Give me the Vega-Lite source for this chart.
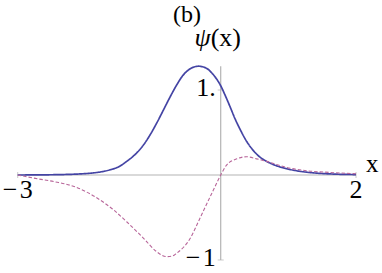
{
  "$schema": "https://vega.github.io/schema/vega-lite/v6.json",
  "width": 382,
  "height": 273,
  "padding": 0,
  "autosize": {"type": "none"},
  "background": "white",
  "config": {"view": {"stroke": null}, "text": {"font": "Liberation Serif", "color": "black"}},
  "datasets": {
    "curves": [
      {"x": -3.0, "psi": 0.0, "part": "solid"},
      {"x": -2.6, "psi": 0.002, "part": "solid"},
      {"x": -2.3, "psi": 0.006, "part": "solid"},
      {"x": -2.1, "psi": 0.012, "part": "solid"},
      {"x": -1.88, "psi": 0.025, "part": "solid"},
      {"x": -1.75, "psi": 0.04, "part": "solid"},
      {"x": -1.64, "psi": 0.06, "part": "solid"},
      {"x": -1.5, "psi": 0.1, "part": "solid"},
      {"x": -1.39, "psi": 0.16, "part": "solid"},
      {"x": -1.26, "psi": 0.245, "part": "solid"},
      {"x": -1.14, "psi": 0.355, "part": "solid"},
      {"x": -1.045, "psi": 0.47, "part": "solid"},
      {"x": -0.96, "psi": 0.59, "part": "solid"},
      {"x": -0.875, "psi": 0.72, "part": "solid"},
      {"x": -0.76, "psi": 0.9, "part": "solid"},
      {"x": -0.65, "psi": 1.06, "part": "solid"},
      {"x": -0.56, "psi": 1.17, "part": "solid"},
      {"x": -0.45, "psi": 1.25, "part": "solid"},
      {"x": -0.33, "psi": 1.28, "part": "solid"},
      {"x": -0.22, "psi": 1.26, "part": "solid"},
      {"x": -0.12, "psi": 1.19, "part": "solid"},
      {"x": 0.0, "psi": 1.05, "part": "solid"},
      {"x": 0.07, "psi": 0.93, "part": "solid"},
      {"x": 0.14, "psi": 0.8, "part": "solid"},
      {"x": 0.21, "psi": 0.665, "part": "solid"},
      {"x": 0.285, "psi": 0.54, "part": "solid"},
      {"x": 0.38, "psi": 0.4, "part": "solid"},
      {"x": 0.48, "psi": 0.29, "part": "solid"},
      {"x": 0.58, "psi": 0.21, "part": "solid"},
      {"x": 0.68, "psi": 0.16, "part": "solid"},
      {"x": 0.82, "psi": 0.11, "part": "solid"},
      {"x": 0.97, "psi": 0.075, "part": "solid"},
      {"x": 1.12, "psi": 0.05, "part": "solid"},
      {"x": 1.27, "psi": 0.033, "part": "solid"},
      {"x": 1.45, "psi": 0.02, "part": "solid"},
      {"x": 1.7, "psi": 0.01, "part": "solid"},
      {"x": 2.0, "psi": 0.005, "part": "solid"},
      {"x": -3.0, "psi": 0.0, "part": "dashed"},
      {"x": -2.74, "psi": -0.04, "part": "dashed"},
      {"x": -2.45, "psi": -0.08, "part": "dashed"},
      {"x": -2.15, "psi": -0.14, "part": "dashed"},
      {"x": -1.86, "psi": -0.255, "part": "dashed"},
      {"x": -1.6, "psi": -0.4, "part": "dashed"},
      {"x": -1.39, "psi": -0.55, "part": "dashed"},
      {"x": -1.14, "psi": -0.745, "part": "dashed"},
      {"x": -0.95, "psi": -0.9, "part": "dashed"},
      {"x": -0.8, "psi": -0.96, "part": "dashed"},
      {"x": -0.72, "psi": -0.955, "part": "dashed"},
      {"x": -0.65, "psi": -0.92, "part": "dashed"},
      {"x": -0.55, "psi": -0.85, "part": "dashed"},
      {"x": -0.45, "psi": -0.745, "part": "dashed"},
      {"x": -0.36, "psi": -0.6, "part": "dashed"},
      {"x": -0.26, "psi": -0.43, "part": "dashed"},
      {"x": -0.11, "psi": -0.18, "part": "dashed"},
      {"x": 0.0, "psi": 0.0, "part": "dashed"},
      {"x": 0.09, "psi": 0.12, "part": "dashed"},
      {"x": 0.24, "psi": 0.19, "part": "dashed"},
      {"x": 0.38, "psi": 0.215, "part": "dashed"},
      {"x": 0.53, "psi": 0.19, "part": "dashed"},
      {"x": 0.68, "psi": 0.16, "part": "dashed"},
      {"x": 0.97, "psi": 0.09, "part": "dashed"},
      {"x": 1.27, "psi": 0.05, "part": "dashed"},
      {"x": 1.62, "psi": 0.03, "part": "dashed"},
      {"x": 2.0, "psi": 0.015, "part": "dashed"}
    ],
    "xticks": [{"v": -3, "label": "−\u200a3"}, {"v": 2, "label": "2"}],
    "yticks": [{"v": 1, "label": "1."}, {"v": -1, "label": "−\u200a1"}],
    "one": [{"k": 1}]
  },
  "layer": [
    {
      "data": {"name": "one"},
      "mark": {"type": "rule", "color": "#b4b4b4", "strokeWidth": 1.2},
      "encoding": {
        "x": {"datum": -3, "type": "quantitative", "scale": {"domain": [-3.262, 2.384], "nice": false, "zero": false}, "axis": null},
        "x2": {"datum": 2},
        "y": {"datum": 0, "type": "quantitative", "scale": {"domain": [-1.153, 2.059], "nice": false, "zero": false}, "axis": null}
      }
    },
    {
      "data": {"name": "one"},
      "mark": {"type": "rule", "color": "#b4b4b4", "strokeWidth": 1.2},
      "encoding": {
        "x": {"datum": 0, "type": "quantitative"},
        "y": {"datum": -1, "type": "quantitative"},
        "y2": {"datum": 1.28}
      }
    },
    {
      "data": {"name": "xticks"},
      "mark": {"type": "tick", "orient": "vertical", "color": "#b4b4b4", "size": 6, "thickness": 1},
      "encoding": {
        "x": {"field": "v", "type": "quantitative"},
        "y": {"datum": 0, "type": "quantitative"}
      }
    },
    {
      "data": {"name": "yticks"},
      "mark": {"type": "tick", "orient": "horizontal", "color": "#b4b4b4", "size": 6, "thickness": 1},
      "encoding": {
        "x": {"datum": 0, "type": "quantitative"},
        "y": {"field": "v", "type": "quantitative"}
      }
    },
    {
      "data": {"name": "curves"},
      "mark": {"type": "line", "interpolate": "monotone"},
      "encoding": {
        "x": {"field": "x", "type": "quantitative"},
        "y": {"field": "psi", "type": "quantitative"},
        "color": {"field": "part", "type": "nominal", "scale": {"domain": ["solid", "dashed"], "range": ["#4444a4", "#b8669a"]}, "legend": null},
        "strokeDash": {"field": "part", "type": "nominal", "scale": {"domain": ["solid", "dashed"], "range": [[1, 0], [3.5, 2]]}, "legend": null},
        "strokeWidth": {"field": "part", "type": "nominal", "scale": {"domain": ["solid", "dashed"], "range": [1.7, 1.1]}, "legend": null}
      }
    },
    {
      "data": {"name": "xticks"},
      "mark": {"type": "text", "fontSize": 26, "align": "center", "baseline": "alphabetic", "dy": 23},
      "encoding": {
        "x": {"field": "v", "type": "quantitative"},
        "y": {"datum": 0, "type": "quantitative"},
        "text": {"field": "label"}
      }
    },
    {
      "data": {"name": "yticks"},
      "mark": {"type": "text", "fontSize": 26, "align": "right", "baseline": "middle", "dx": -5, "dy": -2},
      "encoding": {
        "x": {"datum": 0, "type": "quantitative"},
        "y": {"field": "v", "type": "quantitative"},
        "text": {"field": "label"}
      }
    },
    {
      "data": {"name": "one"},
      "mark": {"type": "text", "fontSize": 25, "align": "left", "baseline": "alphabetic", "dx": 10, "dy": -3},
      "encoding": {
        "x": {"datum": 2, "type": "quantitative"},
        "y": {"datum": 0, "type": "quantitative"},
        "text": {"value": "x"}
      }
    },
    {
      "data": {"name": "one"},
      "mark": {"type": "text", "fontSize": 26, "fontStyle": "italic", "align": "right", "baseline": "alphabetic", "dx": -10},
      "encoding": {
        "x": {"datum": 0, "type": "quantitative"},
        "y": {"datum": 1.518, "type": "quantitative"},
        "text": {"value": "ψ"}
      }
    },
    {
      "data": {"name": "one"},
      "mark": {"type": "text", "fontSize": 26, "align": "left", "baseline": "alphabetic", "dx": -10},
      "encoding": {
        "x": {"datum": 0, "type": "quantitative"},
        "y": {"datum": 1.518, "type": "quantitative"},
        "text": {"value": "(x)"}
      }
    },
    {
      "data": {"name": "one"},
      "mark": {"type": "text", "fontSize": 24, "align": "center", "baseline": "alphabetic"},
      "encoding": {
        "x": {"datum": -0.498, "type": "quantitative"},
        "y": {"datum": 1.8, "type": "quantitative"},
        "text": {"value": "(b)"}
      }
    }
  ]
}
